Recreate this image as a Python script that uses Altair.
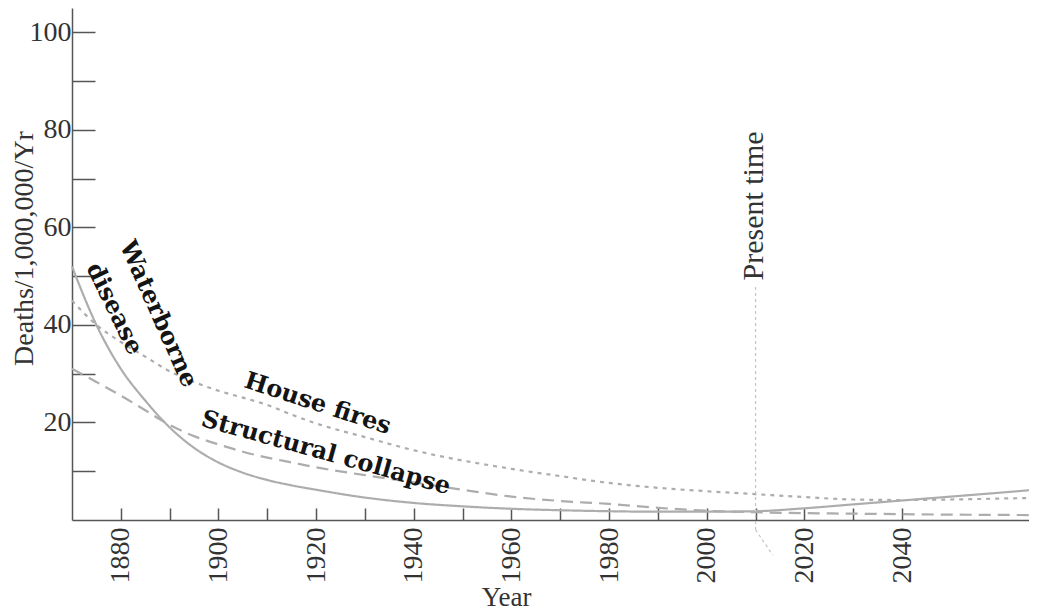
import altair as alt
import pandas as pd

# ---- data ----
years = [1870, 1875, 1880, 1885, 1890, 1895, 1900, 1905, 1910, 1915, 1920, 1930, 1940, 1950,
         1960, 1970, 1980, 1990, 2000, 2010, 2020, 2030, 2040, 2050, 2060, 2066]
waterborne = [52, 40, 31, 24.5, 19, 14.8, 11.8, 9.7, 8.2, 7.1, 6.2, 4.6, 3.5, 2.8,
              2.3, 2.0, 1.8, 1.7, 1.7, 1.8, 2.4, 3.2, 4.0, 4.8, 5.6, 6.1]
house_fires = [45, 40, 36.5, 33.5, 30.5, 28.3, 26.5, 25.1, 23.6, 21.6, 19.8, 17.0, 14.3, 12.2,
               10.5, 9.0, 7.6, 6.6, 5.9, 5.3, 4.7, 4.2, 4.1, 4.2, 4.4, 4.5]
structural = [31, 28.3, 25.5, 22.5, 19.5, 17.2, 15.5, 14.0, 12.8, 11.8, 10.8, 9.2, 7.7, 6.2,
              4.8, 3.9, 3.3, 2.5, 1.9, 1.6, 1.4, 1.3, 1.2, 1.1, 1.05, 1.0]

series_names = ["Waterborne disease", "House fires", "Structural collapse"]
series_values = [waterborne, house_fires, structural]
series_dash = [[1, 0], [4, 5], [12, 7]]

x_ticks = list(range(1880, 2041, 10))
y_ticks = list(range(10, 101, 10))

label_texts = ["Waterborne", "disease", "House fires", "Structural collapse"]
label_years = [1887.6, 1878.6, 1920.3, 1922.0]
label_values = [42.2, 43.3, 23.8, 13.7]
label_angles = [66, 64, 18, 15.5]

present_year = 2010
present_top = 47.8
present_label_value = 64.4
present_tail_years = [2010, 2013.5]
present_tail_values = [-2, -7.2]

# ---- build tables ----
rows = []
for name, vals in zip(series_names, series_values):
    for yr, v in zip(years, vals):
        rows.append({"year": yr, "value": v, "series": name})
lines_df = pd.DataFrame(rows)

GRAY = "#adadad"
AXIS = "#555555"
TXT = "#333333"
SERIF = "Liberation Serif"

xscale = alt.Scale(domain=[1870, 2066], nice=False, zero=False)
yscale = alt.Scale(domain=[0, 105], nice=False, zero=False)

xaxis = alt.Axis(
    values=x_ticks, format="d",
    labelExpr="datum.value % 20 == 0 ? datum.label : ''",
    labelAngle=270, labelFlush=False, labelOverlap=False,
    tickSize={"expr": "-12"}, labelPadding=19,
    grid=False, title="Year", titleX=434, titleY=77,
    titleAlign="center", titleBaseline="middle",
)
yaxis = alt.Axis(
    values=y_ticks,
    labelExpr="datum.value % 20 == 0 ? datum.label : ''",
    labelFlush=False, labelOverlap=False,
    tickSize={"expr": "-23"}, labelPadding=24,
    grid=False, title="Deaths/1,000,000/Yr", titleX=-48, titleY=240,
    titleAngle=270, titleAlign="center", titleBaseline="middle", titleFontSize=28,
)

X = alt.X("year:Q", scale=xscale, axis=xaxis)
Y = alt.Y("value:Q", scale=yscale, axis=yaxis)

lines = alt.Chart(lines_df).mark_line(
    color=GRAY, strokeWidth=2.2, interpolate="monotone"
).encode(
    x=X, y=Y,
    strokeDash=alt.StrokeDash("series:N", scale=alt.Scale(domain=series_names, range=series_dash), legend=None),
    detail="series:N",
)

layers = [lines]

for t, yr, v, a in zip(label_texts, label_years, label_values, label_angles):
    d = pd.DataFrame({"year": [yr], "value": [v], "text": [t]})
    layers.append(
        alt.Chart(d).mark_text(
            font="DejaVu Serif", fontWeight="bold", fontSize=24, color="#141414",
            angle=a, align="center", baseline="middle"
        ).encode(x=X, y=Y, text="text:N")
    )

rule_df = pd.DataFrame({"year": [present_year], "value": [present_top], "value2": [present_tail_values[0]]})
layers.append(
    alt.Chart(rule_df).mark_rule(color="#c4c4c4", strokeWidth=1.2, strokeDash=[3, 3]).encode(
        x=X, y=Y, y2="value2:Q",
    )
)
tail_df = pd.DataFrame({"year": present_tail_years, "value": present_tail_values})
layers.append(
    alt.Chart(tail_df).mark_line(color="#c4c4c4", strokeWidth=1.2, strokeDash=[3, 3]).encode(
        x=X, y=Y,
    )
)
pt_df = pd.DataFrame({"year": [present_year], "value": [present_label_value], "text": ["Present time"]})
layers.append(
    alt.Chart(pt_df).mark_text(
        font=SERIF, fontSize=30, color=TXT, angle=270, align="center",
        baseline="alphabetic", dy=7
    ).encode(x=X, y=Y, text="text:N")
)

chart = alt.layer(*layers).properties(
    width=957, height=512,
    autosize=alt.AutoSizeParams(type="none"),
    padding={"left": 64, "top": 0, "right": 0, "bottom": 90},
    background="white",
).configure_view(stroke=None).configure_axis(
    domainColor=AXIS, domainWidth=1.5, tickColor=AXIS, tickWidth=1.5,
    labelFont=SERIF, labelFontSize=28, labelColor=TXT,
    titleFont=SERIF, titleFontSize=27, titleColor=TXT, titleFontWeight="normal",
)

chart.save("out.html", embed_options={"renderer": "svg", "actions": False})
